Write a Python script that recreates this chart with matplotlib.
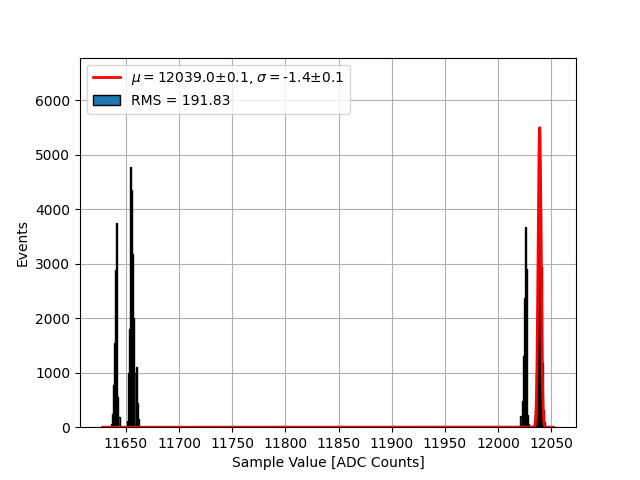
import numpy as np
import matplotlib.pyplot as plt

# ADC sample values and how many events landed on each
adc_values = [11636, 11637, 11638, 11639, 11640, 11641, 11642, 11643, 11644,
              11651, 11652, 11653, 11654, 11655, 11656, 11657, 11658, 11659, 11660, 11661,
              12020, 12021, 12022, 12023, 12024, 12025, 12026, 12027, 12028,
              12034, 12035, 12036, 12037, 12038, 12039, 12040, 12041, 12042, 12043, 12044]
adc_counts = [60, 250, 780, 1540, 2880, 3750, 560, 190, 30,
              120, 1000, 1800, 4780, 4350, 3180, 2000, 1000, 1100, 450, 150,
              30, 200, 480, 1300, 2370, 3680, 2900, 230, 60,
              60, 300, 1000, 2200, 3800, 4000, 2940, 1170, 310, 100, 20]

# histogram range (one bin per ADC count)
lo, hi = 11628, 12052
xticks = [11650, 11700, 11750, 11800, 11850, 11900, 11950, 12000, 12050]

# gaussian fit results
mu = 12039.0
sigma = -1.4
amp = 5500

fig = plt.figure(figsize=(6.4, 4.8), dpi=100)
ax = plt.axes()

# fit curve first so it comes first in the legend (zorder keeps it on top)
xfit = np.linspace(lo, hi, 2000)
yfit = amp * np.exp(-(xfit - mu)**2 / (2 * sigma**2))
ax.plot(xfit, yfit, color='red', linewidth=2, zorder=3,
        label=r'$\mu=$12039.0$\pm$0.1, $\sigma=$-1.4$\pm$0.1')

bins = np.arange(lo, hi + 1)
ax.hist(adc_values, bins=bins, weights=adc_counts, edgecolor='black',
        color='tab:blue', label='RMS = 191.83')

ax.set_xticks(xticks)
ax.set_ylim(0, 6780)
ax.set_xlabel('Sample Value [ADC Counts]')
ax.set_ylabel('Events')
ax.grid(True)
ax.set_axisbelow(True)
ax.legend(loc='upper left')

plt.savefig('out.png')
